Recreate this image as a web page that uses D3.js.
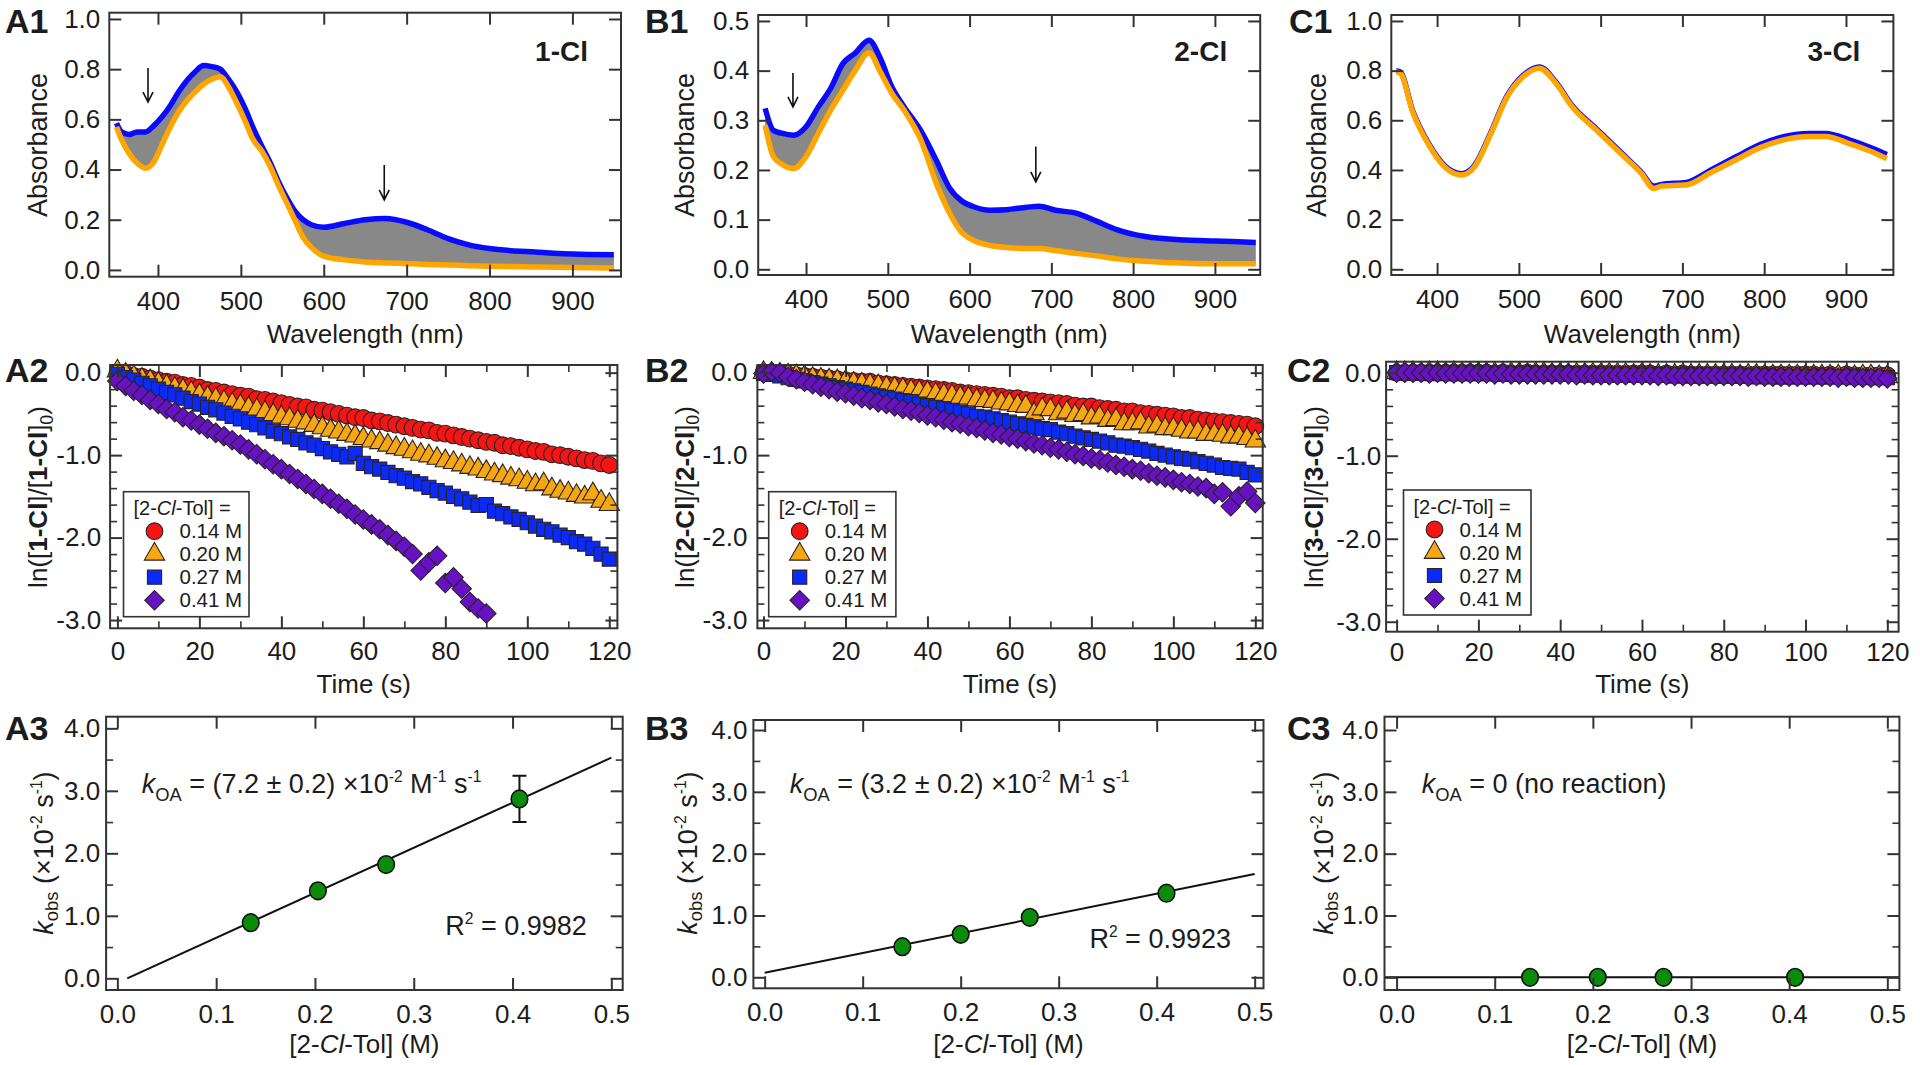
<!DOCTYPE html>
<html><head><meta charset="utf-8">
<script src="https://cdn.jsdelivr.net/npm/d3@7"></script>
<style>body{margin:0;background:#fff}svg{display:block}</style>
</head><body>
<svg id="fig" width="1920" height="1065"></svg>
<script>
// ---------------- DATA ----------------
// Row 1: UV-vis spectra (wavelength nm, absorbance)
const nmA1 = [350,356,365,375,385,395,405,415,425,435,445,455,465,475,485,495,505,515,525,535,545,555,565,575,585,600,625,650,675,700,725,750,775,800,850,900,950];
const blueA1 = [0.585,0.55,0.54,0.55,0.55,0.575,0.61,0.655,0.71,0.755,0.79,0.815,0.81,0.80,0.76,0.71,0.645,0.565,0.495,0.43,0.355,0.29,0.235,0.20,0.18,0.17,0.185,0.20,0.205,0.19,0.16,0.125,0.10,0.085,0.072,0.063,0.06];
const orangeA1 = [0.57,0.52,0.465,0.425,0.405,0.43,0.50,0.57,0.63,0.675,0.71,0.74,0.76,0.77,0.73,0.665,0.595,0.518,0.475,0.415,0.34,0.27,0.20,0.13,0.09,0.055,0.04,0.032,0.028,0.025,0.022,0.02,0.017,0.015,0.012,0.01,0.008];

const nmB1 = [350,360,370,385,400,415,430,445,460,477,490,505,520,540,560,575,590,605,625,645,670,685,705,730,755,780,815,865,900,950];
const blueB1 = [0.324,0.28,0.274,0.27,0.287,0.327,0.364,0.414,0.435,0.461,0.428,0.367,0.327,0.28,0.217,0.165,0.138,0.126,0.119,0.12,0.125,0.127,0.119,0.113,0.097,0.08,0.066,0.059,0.057,0.054];
const orangeB1 = [0.29,0.227,0.212,0.203,0.227,0.274,0.32,0.36,0.40,0.436,0.40,0.354,0.32,0.262,0.17,0.115,0.075,0.058,0.048,0.044,0.042,0.042,0.038,0.032,0.027,0.021,0.016,0.012,0.011,0.011];

const nmC1 = [350,355,370,390,410,430,445,465,485,505,525,545,565,595,625,650,665,675,705,735,765,795,825,855,875,905,930,950];
const blueC1 = [0.80,0.795,0.64,0.505,0.415,0.385,0.415,0.545,0.695,0.78,0.815,0.755,0.66,0.565,0.47,0.39,0.335,0.342,0.35,0.40,0.452,0.502,0.535,0.547,0.547,0.52,0.49,0.462];
const orangeC1 = [0.795,0.79,0.635,0.50,0.41,0.38,0.41,0.54,0.69,0.775,0.81,0.75,0.655,0.56,0.465,0.385,0.325,0.335,0.34,0.39,0.44,0.49,0.522,0.535,0.535,0.505,0.475,0.445];

const arrowsA1 = [[388,0.805,0.669],[673,0.418,0.279]];
const arrowsB1 = [[384,0.395,0.327],[681,0.247,0.176]];

// Row 2: kinetics, time (s) and ln([M]/[M]0)
const tKin = [0,2,4,6,8,10,12,14,16,18,20,22,24,26,28,30,32,34,36,38,40,42,44,46,48,50,52,54,56,58,60,62,64,66,68,70,72,74,76,78,80,82,84,86,88,90,92,94,96,98,100,102,104,106,108,110,112,114,116,118,120];
const concLabels = ["0.14 M","0.20 M","0.27 M","0.41 M"];

const a2Red = [0.00,-0.01,-0.04,-0.05,-0.07,-0.09,-0.11,-0.12,-0.15,-0.16,
 -0.18,-0.21,-0.22,-0.24,-0.26,-0.28,-0.29,-0.32,-0.33,-0.35,
 -0.37,-0.39,-0.41,-0.42,-0.45,-0.46,-0.48,-0.50,-0.52,-0.54,
 -0.55,-0.58,-0.59,-0.61,-0.63,-0.65,-0.67,-0.69,-0.70,-0.73,
 -0.74,-0.76,-0.78,-0.80,-0.82,-0.84,-0.85,-0.88,-0.89,-0.91,
 -0.93,-0.95,-0.96,-0.99,-1.00,-1.02,-1.04,-1.06,-1.07,-1.10,-1.12];
const a2Orange = [0.02,-0.02,-0.05,-0.08,-0.10,-0.13,-0.16,-0.19,-0.21,-0.24,
 -0.27,-0.30,-0.32,-0.35,-0.38,-0.40,-0.43,-0.45,-0.48,-0.51,
 -0.54,-0.56,-0.59,-0.61,-0.64,-0.67,-0.70,-0.72,-0.75,-0.77,
 -0.80,-0.83,-0.85,-0.88,-0.91,-0.93,-0.96,-0.99,-1.01,-1.04,
 -1.07,-1.09,-1.12,-1.15,-1.17,-1.20,-1.23,-1.25,-1.28,-1.30,
 -1.33,-1.36,-1.35,-1.41,-1.44,-1.46,-1.49,-1.51,-1.47,-1.56,-1.60];
const a2Blue = [-0.02,-0.06,-0.09,-0.13,-0.16,-0.20,-0.24,-0.27,-0.31,-0.35,
 -0.38,-0.42,-0.45,-0.49,-0.53,-0.56,-0.60,-0.63,-0.67,-0.71,
 -0.74,-0.78,-0.81,-0.85,-0.88,-0.92,-0.96,-0.99,-1.02,-0.98,
 -1.10,-1.14,-1.17,-1.21,-1.25,-1.28,-1.32,-1.35,-1.39,-1.43,
 -1.46,-1.50,-1.53,-1.57,-1.61,-1.60,-1.68,-1.71,-1.75,-1.78,
 -1.82,-1.86,-1.90,-1.93,-1.97,-2.00,-2.05,-2.08,-2.13,-2.20,-2.26];
const a2Purple = [-0.10,-0.16,-0.22,-0.27,-0.33,-0.38,-0.44,-0.48,-0.54,-0.58,
 -0.63,-0.68,-0.73,-0.77,-0.82,-0.87,-0.93,-0.99,-1.05,-1.11,
 -1.17,-1.23,-1.29,-1.35,-1.41,-1.47,-1.53,-1.59,-1.65,-1.72,
 -1.78,-1.84,-1.90,-1.97,-2.04,-2.11,-2.20,-2.40,-2.30,-2.22,
 -2.55,-2.48,-2.62,-2.78,-2.86,-2.92];

const b2Red = [0.00,0.00,-0.01,-0.02,-0.03,-0.04,-0.05,-0.06,-0.07,-0.08,
 -0.09,-0.10,-0.11,-0.11,-0.13,-0.14,-0.15,-0.16,-0.17,-0.18,
 -0.19,-0.20,-0.21,-0.22,-0.24,-0.25,-0.26,-0.27,-0.28,-0.29,
 -0.31,-0.31,-0.33,-0.34,-0.35,-0.36,-0.37,-0.38,-0.40,-0.41,
 -0.41,-0.43,-0.44,-0.45,-0.47,-0.47,-0.49,-0.50,-0.51,-0.52,
 -0.53,-0.55,-0.55,-0.57,-0.58,-0.59,-0.60,-0.61,-0.62,-0.63,-0.65];
const b2Orange = [0.00,-0.01,-0.02,-0.03,-0.04,-0.05,-0.07,-0.08,-0.09,-0.10,
 -0.11,-0.13,-0.14,-0.15,-0.16,-0.18,-0.19,-0.20,-0.22,-0.23,
 -0.24,-0.26,-0.27,-0.28,-0.30,-0.31,-0.33,-0.34,-0.35,-0.37,
 -0.38,-0.40,-0.41,-0.50,-0.44,-0.45,-0.50,-0.48,-0.52,-0.51,
 -0.55,-0.54,-0.58,-0.57,-0.62,-0.62,-0.61,-0.66,-0.65,-0.68,
 -0.68,-0.70,-0.72,-0.72,-0.75,-0.75,-0.76,-0.78,-0.78,-0.80,-0.83];
const b2Blue = [-0.01,-0.02,-0.04,-0.06,-0.08,-0.10,-0.12,-0.14,-0.16,-0.18,
 -0.20,-0.22,-0.24,-0.26,-0.28,-0.30,-0.32,-0.34,-0.35,-0.38,
 -0.40,-0.42,-0.44,-0.46,-0.48,-0.50,-0.53,-0.54,-0.56,-0.58,
 -0.60,-0.62,-0.64,-0.66,-0.68,-0.69,-0.72,-0.74,-0.77,-0.79,
 -0.81,-0.83,-0.85,-0.88,-0.89,-0.91,-0.93,-0.95,-0.98,-1.00,
 -1.02,-1.04,-1.05,-1.08,-1.10,-1.12,-1.15,-1.16,-1.17,-1.21,-1.24];
const b2Purple = [-0.01,0.01,0.00,-0.05,-0.08,-0.11,-0.14,-0.17,-0.20,-0.23,
 -0.25,-0.28,-0.31,-0.33,-0.36,-0.38,-0.41,-0.44,-0.46,-0.49,
 -0.52,-0.54,-0.57,-0.60,-0.62,-0.65,-0.67,-0.70,-0.73,-0.75,
 -0.78,-0.80,-0.83,-0.86,-0.88,-0.91,-0.93,-0.96,-0.99,-1.01,
 -1.04,-1.06,-1.09,-1.12,-1.14,-1.17,-1.19,-1.22,-1.25,-1.27,
 -1.30,-1.33,-1.35,-1.38,-1.40,-1.47,-1.45,-1.62,-1.50,-1.44,-1.58];

const c2Red = [0.00,0.00,0.00,0.00,0.00,0.00,0.00,0.00,0.00,0.00,
 0.00,0.00,-0.01,0.00,-0.01,-0.01,0.00,-0.01,-0.01,-0.01,
 -0.01,-0.01,-0.01,-0.01,-0.01,-0.01,-0.01,-0.01,-0.01,-0.01,
 -0.01,-0.01,-0.02,-0.01,-0.02,-0.01,-0.02,-0.02,-0.02,-0.02,
 -0.02,-0.02,-0.02,-0.02,-0.02,-0.02,-0.02,-0.02,-0.02,-0.02,
 -0.02,-0.02,-0.03,-0.02,-0.03,-0.02,-0.03,-0.03,-0.03,-0.03,-0.03];
const c2Orange = [0.00,0.00,0.00,-0.01,0.00,0.00,-0.01,0.00,-0.01,-0.01,
 -0.01,-0.01,-0.01,-0.01,-0.01,-0.01,-0.02,-0.01,-0.01,-0.02,
 -0.02,-0.02,-0.02,-0.02,-0.02,-0.02,-0.02,-0.02,-0.02,-0.03,
 -0.02,-0.03,-0.03,-0.03,-0.03,-0.03,-0.03,-0.03,-0.03,-0.03,
 -0.03,-0.03,-0.04,-0.03,-0.03,-0.04,-0.04,-0.04,-0.04,-0.04,
 -0.04,-0.04,-0.04,-0.04,-0.04,-0.04,-0.05,-0.04,-0.04,-0.05,-0.05];
const c2Blue = [0.00,0.00,0.00,0.00,-0.01,0.00,-0.01,-0.01,-0.01,-0.01,
 -0.01,-0.01,-0.01,-0.02,-0.01,-0.02,-0.02,-0.02,-0.02,-0.02,
 -0.02,-0.02,-0.02,-0.03,-0.02,-0.03,-0.03,-0.03,-0.03,-0.03,
 -0.03,-0.03,-0.03,-0.03,-0.04,-0.03,-0.04,-0.04,-0.04,-0.04,
 -0.04,-0.04,-0.04,-0.04,-0.05,-0.04,-0.05,-0.05,-0.05,-0.05,
 -0.05,-0.05,-0.05,-0.05,-0.05,-0.05,-0.06,-0.05,-0.06,-0.06,-0.06];
const c2Purple = [0.00,0.00,0.00,0.00,-0.01,0.00,-0.01,-0.01,-0.01,-0.01,
 -0.01,-0.01,-0.02,-0.01,-0.02,-0.02,-0.02,-0.02,-0.02,-0.02,
 -0.02,-0.02,-0.03,-0.02,-0.03,-0.03,-0.03,-0.03,-0.03,-0.03,
 -0.03,-0.03,-0.04,-0.03,-0.04,-0.04,-0.04,-0.04,-0.04,-0.04,
 -0.04,-0.04,-0.04,-0.05,-0.04,-0.05,-0.05,-0.05,-0.05,-0.05,
 -0.05,-0.05,-0.05,-0.05,-0.06,-0.05,-0.06,-0.06,-0.06,-0.06,-0.07];

// Row 3: kobs (x10^-2 s^-1) vs [2-Cl-Tol] (M)
const concA3 = [0.135,0.203,0.272,0.407];
const kobsA3 = [0.89,1.40,1.82,2.87];
const errA3 = [0.04,0.03,0.04,0.37];
const fitA3 = [[0.010,0.0],[0.5,3.53]];
const concB3 = [0.1405,0.200,0.2705,0.410];
const kobsB3 = [0.495,0.695,0.97,1.36];
const errB3 = [0.03,0.03,0.03,0.03];
const fitB3 = [[0.0,0.075],[0.5,1.67]];
const concC3 = [0.136,0.205,0.272,0.406];
const kobsC3 = [0,0,0,0];
const errC3 = [0,0,0,0];
const fitC3 = [[-0.0123,0],[0.5123,0]];

// tick values
const wlTicks = [400,500,600,700,800,900];
const absTicks1 = [0,0.2,0.4,0.6,0.8,1.0];
const absTicksB = [0,0.1,0.2,0.3,0.4,0.5];
const timeTicks = [0,20,40,60,80,100,120];
const timeMinor = [10,30,50,70,90,110];
const lnTicks = [0,-1,-2,-3];
const lnMinor = [-0.2,-0.4,-0.6,-0.8,-1.2,-1.4,-1.6,-1.8,-2.2,-2.4,-2.6,-2.8];
const concTicks = [0,0.1,0.2,0.3,0.4,0.5];
const kTicks = [0,1,2,3,4];
const kMinor = [0.5,1.5,2.5,3.5];

// ---------------- DRAWING ----------------
const FONT = '"Liberation Sans", Arial, Helvetica, sans-serif';
const INK = "#1c1c1c";
const FR = "#333";
const svg = d3.select("#fig");
const defs = svg.append("defs");

const layout = {
  A1:{l:109.3,r:621,t:12.7,b:276.7,xd:[341.3,958.6],yd:[-0.027,1.025]},
  B1:{l:758.2,r:1260.2,t:15,b:275,xd:[341.5,955.4],yd:[-0.0115,0.512]},
  C1:{l:1391.3,r:1893.4,t:15,b:275,xd:[344,958],yd:[-0.023,1.024]},
  A2:{l:110.1,r:617.4,t:365,b:628.3,xd:[-1.78,121.98],yd:[-3.1,0.093]},
  B2:{l:757.4,r:1262.7,t:365,b:628.3,xd:[-1.49,121.8],yd:[-3.1,0.093]},
  C2:{l:1386.1,r:1898.6,t:361.7,b:631.7,xd:[-2.57,122.76],yd:[-3.12,0.1325]},
  A3:{l:106.1,r:622.7,t:716.7,b:990,xd:[-0.0114,0.5115],yd:[-0.187,4.186]},
  B3:{l:753.4,r:1263.5,t:720,b:988.3,xd:[-0.0115,0.509],yd:[-0.178,4.162]},
  C3:{l:1384.5,r:1899.4,t:716.7,b:990,xd:[-0.0123,0.5123],yd:[-0.205,4.215]}
};

function panel(name){
  const c = layout[name];
  const x = d3.scaleLinear().domain(c.xd).range([c.l,c.r]);
  const y = d3.scaleLinear().domain(c.yd).range([c.b,c.t]);
  defs.append("clipPath").attr("id","clip"+name).append("rect")
    .attr("x",c.l).attr("y",c.t).attr("width",c.r-c.l).attr("height",c.b-c.t);
  const g = svg.append("g");
  return {c,x,y,g,clip:"url(#clip"+name+")"};
}

function axes(p, xt, yt, xm, ym, fx, fy, ypad, xpad){
  const {c,x,y} = p;
  const g = svg.append("g");
  function put(axis, tx, ty, vals, size, fmt, pad, sw){
    const a = axis.tickValues(vals).tickSizeInner(-size).tickSizeOuter(0).tickPadding(pad).tickFormat(fmt||"");
    const gg = g.append("g").attr("transform",`translate(${tx},${ty})`).call(a);
    gg.select(".domain").remove();
    gg.selectAll("line").attr("stroke",FR).attr("stroke-width",sw);
    gg.selectAll("text").attr("font-size",26).attr("font-family",FONT).attr("fill",INK);
  }
  put(d3.axisBottom(x),0,c.b,xt,12,fx,xpad==null?14.5:xpad,2);
  put(d3.axisTop(x),0,c.t,xt,12,null,0,2);
  put(d3.axisLeft(y),c.l,0,yt,12,fy,ypad==null?9:ypad,2);
  put(d3.axisRight(y),c.r,0,yt,12,null,0,2);
  if (xm){ put(d3.axisBottom(x),0,c.b,xm,7,null,0,1.6); put(d3.axisTop(x),0,c.t,xm,7,null,0,1.6); }
  if (ym){ put(d3.axisLeft(y),c.l,0,ym,7,null,0,1.6); put(d3.axisRight(y),c.r,0,ym,7,null,0,1.6); }
  g.append("rect").attr("x",c.l).attr("y",c.t).attr("width",c.r-c.l).attr("height",c.b-c.t)
    .attr("fill","none").attr("stroke",FR).attr("stroke-width",2);
}

function rich(sel, parts, size, subShift){
  let shift = 0;
  parts.forEach(pt=>{
    const t = typeof pt === "string" ? {t:pt} : pt;
    const ts = sel.append("tspan").text(t.t);
    let target = 0, fs = size;
    if (t.sub){ target = size*(subShift==null?0.3:subShift); fs = size*0.68; }
    if (t.sup){ target = -size*0.42; fs = size*0.58; }
    ts.attr("font-size",fs);
    if (target !== shift){ ts.attr("dy",target-shift); shift = target; }
    if (t.b) ts.attr("font-weight","bold");
    if (t.i) ts.attr("font-style","italic");
  });
}
function txt(x,y,parts,size,anchor,opts){
  const t = svg.append("text").attr("x",x).attr("y",y).attr("font-family",FONT)
    .attr("font-size",size).attr("fill",INK).attr("text-anchor",anchor||"start");
  if (opts && opts.bold) t.attr("font-weight","bold");
  rich(t, Array.isArray(parts)?parts:[parts], size);
  return t;
}
function ytitle(cx,cy,parts,size,subShift){
  const t = svg.append("text").attr("transform",`translate(${cx},${cy}) rotate(-90)`)
    .attr("dy","0.36em").attr("font-family",FONT).attr("font-size",size).attr("fill",INK).attr("text-anchor","middle");
  rich(t,parts,size,subShift);
}

const fmt1 = v => v.toFixed(1);
const fmt0 = v => String(v);

// ---- Row 1 spectra ----
function spectra(name, nm, blue, orange, band, yt, arrows, comp){
  const p = panel(name);
  const gl = p.g.append("g").attr("clip-path",p.clip);
  const rows = nm.map((w,i)=>({w,b:blue[i],o:orange[i]}));
  if (band){
    gl.append("path").datum(rows).attr("fill","#888888")
      .attr("d", d3.area().x(d=>p.x(d.w)).y0(d=>p.y(d.o)).y1(d=>p.y(d.b)).curve(d3.curveMonotoneX));
  }
  gl.append("path").datum(rows).attr("fill","none").attr("stroke","#0a0aff").attr("stroke-width",5.5)
    .attr("stroke-linejoin","round").attr("d", d3.line().x(d=>p.x(d.w)).y(d=>p.y(d.b)).curve(d3.curveMonotoneX));
  gl.append("path").datum(rows).attr("fill","none").attr("stroke","#ffa500").attr("stroke-width",5.5)
    .attr("stroke-linejoin","round").attr("d", d3.line().x(d=>p.x(d.w)).y(d=>p.y(d.o)).curve(d3.curveMonotoneX));
  (arrows||[]).forEach(a=>{
    const ax = p.x(a[0]), y0 = p.y(a[1]), y1 = p.y(a[2]);
    p.g.append("path").attr("d",`M${ax},${y0}L${ax},${y1}M${ax-5},${y1-10}L${ax},${y1}L${ax+5},${y1-10}`)
      .attr("fill","none").attr("stroke","#111").attr("stroke-width",1.6);
  });
  axes(p, wlTicks, yt, null, null, fmt0, fmt1);
  txt(p.c.r-33, 61, comp, 28, "end", {bold:true});
  txt((p.c.l+p.c.r)/2, 343, "Wavelength (nm)", 26, "middle");
  return p;
}
spectra("A1", nmA1, blueA1, orangeA1, true, absTicks1, arrowsA1, "1-Cl");
spectra("B1", nmB1, blueB1, orangeB1, true, absTicksB, arrowsB1, "2-Cl");
spectra("C1", nmC1, blueC1, orangeC1, false, absTicks1, null, "3-Cl");
ytitle(37, 145, ["Absorbance"], 27);
ytitle(684.5, 145, ["Absorbance"], 27);
ytitle(1316.5, 145, ["Absorbance"], 27);

// ---- Row 2 kinetics ----
const kinColors = ["#f51515","#f7a712","#0b2af7","#6611c4"];
const symbols = [
  d3.symbol().type(d3.symbolCircle).size(220)(),
  d3.symbol().type(d3.symbolTriangle).size(180)(),
  d3.symbol().type(d3.symbolSquare).size(200)(),
  d3.symbol().type(d3.symbolSquare).size(190)()
];
function marker(g, si, cx, cy){
  return g.append("path").attr("d",symbols[si])
    .attr("transform",`translate(${cx},${cy})${si===3?" rotate(45)":""}`)
    .attr("fill",kinColors[si]).attr("stroke","#2a2222").attr("stroke-width",1.1);
}
function kinetics(name, series, legendBox, ypad, xpad){
  const p = panel(name);
  series.forEach((vals,si)=>{
    const gs = p.g.append("g");
    vals.forEach((v,i)=> marker(gs, si, p.x(tKin[i]), p.y(v)));
  });
  axes(p, timeTicks, lnTicks, timeMinor, lnMinor, fmt0, fmt1, ypad, xpad);
  const [lx,ly,lw,lh] = legendBox;
  svg.append("rect").attr("x",lx).attr("y",ly).attr("width",lw).attr("height",lh)
    .attr("fill","#fff").attr("stroke","#333").attr("stroke-width",1.6);
  txt(lx+10, ly+23.5, ["[2-",{t:"Cl",i:true},"-Tol] ="], 20, "start");
  const lg = svg.append("g");
  concLabels.forEach((lab,i)=>{
    const by = ly + 46.5 + i*23;
    marker(lg, i, lx+31, by-7);
    txt(lx+56, by, lab, 20.5, "start");
  });
  txt((p.c.l+p.c.r)/2, 693, "Time (s)", 26, "middle");
  return p;
}
kinetics("A2", [a2Red,a2Orange,a2Blue,a2Purple], [123.5,491.7,125.5,125], 9, 13.5);
kinetics("B2", [b2Red,b2Orange,b2Blue,b2Purple], [768.7,491.7,127.2,125], 10, 13.5);
kinetics("C2", [c2Red,c2Orange,c2Blue,c2Purple], [1403.5,490,127.5,125], 5, 11);
function lnTitle(cx, cy, comp){
  ytitle(cx, cy, ["ln([",{t:comp,b:true},"]/[",{t:comp,b:true},"]",{t:"0",sub:true},")"], 26, 0.2);
}
lnTitle(38, 497, "1-Cl");
lnTitle(684.5, 497, "2-Cl");
lnTitle(1314, 497, "3-Cl");

// ---- Row 3 kobs plots ----
function kobsPlot(name, conc, kobs, err, fit, annot, r2){
  const p = panel(name);
  const gl = p.g.append("g").attr("clip-path",p.clip);
  gl.append("line").attr("x1",p.x(fit[0][0])).attr("y1",p.y(fit[0][1]))
    .attr("x2",p.x(fit[1][0])).attr("y2",p.y(fit[1][1])).attr("stroke","#111").attr("stroke-width",2);
  conc.forEach((cv,i)=>{
    if (err[i] > 0.1){
      const cx = p.x(cv), ya = p.y(kobs[i]-err[i]), yb = p.y(kobs[i]+err[i]);
      p.g.append("path").attr("d",`M${cx},${ya}L${cx},${yb}M${cx-7},${ya}L${cx+7},${ya}M${cx-7},${yb}L${cx+7},${yb}`)
        .attr("stroke","#111").attr("stroke-width",2).attr("fill","none");
    }
    p.g.append("ellipse").attr("cx",p.x(cv)).attr("cy",p.y(kobs[i])).attr("rx",8.3).attr("ry",8.8)
      .attr("fill","#0a8c0a").attr("stroke","#111").attr("stroke-width",1.6);
  });
  axes(p, concTicks, kTicks, null, kMinor, fmt1, fmt1, 6);
  txt(annot[0], annot[1], annot[2], 27, "start");
  if (r2) txt(r2[0], r2[1], ["R",{t:"2",sup:true}," = "+r2[2]], 27, "start");
  txt((p.c.l+p.c.r)/2, 1053, ["[2-",{t:"Cl",i:true},"-Tol] (M)"], 26, "middle");
  return p;
}
const kOA = v => [{t:"k",i:true},{t:"OA",sub:true}," = "+v];
kobsPlot("A3", concA3, kobsA3, errA3, fitA3,
  [141.7,793,[{t:"k",i:true},{t:"OA",sub:true}," = (7.2 \u00b1 0.2) \u00d710",{t:"-2",sup:true}," M",{t:"-1",sup:true}," s",{t:"-1",sup:true}]],
  [445.3,935,"0.9982"]);
kobsPlot("B3", concB3, kobsB3, errB3, fitB3,
  [789.8,793,[{t:"k",i:true},{t:"OA",sub:true}," = (3.2 \u00b1 0.2) \u00d710",{t:"-2",sup:true}," M",{t:"-1",sup:true}," s",{t:"-1",sup:true}]],
  [1089.4,948,"0.9923"]);
kobsPlot("C3", concC3, kobsC3, errC3, fitC3,
  [1421.7,793,kOA("0 (no reaction)")], null);
function kTitle(cx, cy){
  ytitle(cx, cy, [{t:"k",i:true},{t:"obs",sub:true}," (\u00d710",{t:"-2",sup:true}," s",{t:"-1",sup:true},")"], 27, 0.18);
}
kTitle(43.5, 853); kTitle(687.5, 853); kTitle(1323.5, 853);

// ---- panel labels ----
[["A1",5,33],["B1",645,33],["C1",1289,33],["A2",5,382],["B2",645,382],["C2",1287,382],["A3",5,740],["B3",645,740],["C3",1287,740]]
  .forEach(d=> txt(d[1],d[2],d[0],34,"start",{bold:true}));
</script>
</body></html>
